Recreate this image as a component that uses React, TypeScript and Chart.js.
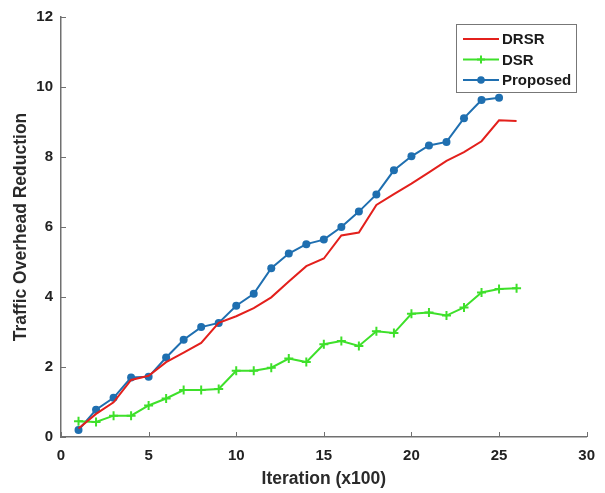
import React, { useEffect, useRef } from "react";
import { Chart, registerables } from "chart.js";
Chart.register(...registerables);

const iterations = [1, 2, 3, 4, 5, 6, 7, 8, 9, 10, 11, 12, 13, 14, 15, 16, 17, 18, 19, 20, 21, 22, 23, 24, 25, 26];
const drsr = [0.24, 0.66, 0.99, 1.63, 1.75, 2.14, 2.41, 2.69, 3.26, 3.45, 3.68, 3.99, 4.44, 4.88, 5.1, 5.76, 5.84, 6.63, 6.94, 7.24, 7.56, 7.89, 8.14, 8.45, 9.05, 9.03];
const dsr = [0.45, 0.43, 0.61, 0.61, 0.9, 1.1, 1.34, 1.34, 1.37, 1.89, 1.89, 1.98, 2.24, 2.14, 2.65, 2.74, 2.6, 3.02, 2.97, 3.52, 3.56, 3.47, 3.7, 4.13, 4.23, 4.25];
const proposed = [0.2, 0.78, 1.12, 1.7, 1.72, 2.27, 2.78, 3.14, 3.26, 3.75, 4.09, 4.82, 5.24, 5.51, 5.64, 6.0, 6.44, 6.93, 7.62, 8.02, 8.33, 8.43, 9.11, 9.63, 9.69];
const seriesNames = ["DRSR", "DSR", "Proposed"];
const xTitle = "Iteration (x100)";
const yTitle = "Traffic Overhead Reduction";

const FONT = "'Liberation Sans', Arial, sans-serif";
const RED = "#e3201c";
const GREEN = "#3ee02a";
const BLUE = "#1f6fb0";
const AXIS = "#707070";

const toPts = (vals: number[]) => vals.map((v, i) => ({ x: iterations[i], y: v }));

const inwardTicks = {
  id: "inwardTicks",
  afterDraw(chart: any) {
    const { ctx, chartArea, scales } = chart;
    ctx.save();
    ctx.strokeStyle = AXIS;
    ctx.lineWidth = 1;
    const xs = scales.x;
    const ys = scales.y;
    xs.ticks.forEach((t: any) => {
      const px = Math.round(xs.getPixelForValue(t.value)) + 0.5;
      ctx.beginPath();
      ctx.moveTo(px, chartArea.bottom);
      ctx.lineTo(px, chartArea.bottom - 5);
      ctx.stroke();
    });
    ys.ticks.forEach((t: any) => {
      const py = Math.round(ys.getPixelForValue(t.value)) + 0.5;
      ctx.beginPath();
      ctx.moveTo(chartArea.left, py);
      ctx.lineTo(chartArea.left + 5, py);
      ctx.stroke();
    });
    ctx.restore();
  },
};

const boxLegend = {
  id: "boxLegend",
  afterDraw(chart: any) {
    const { ctx } = chart;
    const x0 = 456.5, y0 = 24.5, w = 120, h = 68;
    ctx.save();
    ctx.fillStyle = "#ffffff";
    ctx.fillRect(x0, y0, w, h);
    ctx.strokeStyle = "#777777";
    ctx.lineWidth = 1;
    ctx.strokeRect(x0, y0, w, h);
    const rows = [39, 59.5, 80];
    const colors = [RED, GREEN, BLUE];
    ctx.font = `bold 15px ${FONT}`;
    ctx.textBaseline = "middle";
    rows.forEach((ry, i) => {
      ctx.strokeStyle = colors[i];
      ctx.lineWidth = 2;
      ctx.beginPath();
      ctx.moveTo(463, ry);
      ctx.lineTo(499, ry);
      ctx.stroke();
      if (i === 1) {
        ctx.lineWidth = 2;
        ctx.beginPath();
        ctx.moveTo(481, ry - 4);
        ctx.lineTo(481, ry + 4);
        ctx.moveTo(477, ry);
        ctx.lineTo(485, ry);
        ctx.stroke();
      }
      if (i === 2) {
        ctx.fillStyle = BLUE;
        ctx.beginPath();
        ctx.arc(481, ry, 3.8, 0, Math.PI * 2);
        ctx.fill();
      }
      ctx.fillStyle = "#1a1a1a";
      ctx.fillText(seriesNames[i], 502, ry + 1);
    });
    ctx.restore();
  },
};

export default function App() {
  const ref = useRef<HTMLCanvasElement | null>(null);
  useEffect(() => {
    if (!ref.current) return;
    const chart = new Chart(ref.current, {
      type: "line",
      data: {
        datasets: [
          {
            label: seriesNames[0],
            data: toPts(drsr),
            borderColor: RED,
            backgroundColor: RED,
            borderWidth: 2,
            pointRadius: 0,
            tension: 0,
          },
          {
            label: seriesNames[1],
            data: toPts(dsr),
            borderColor: GREEN,
            backgroundColor: GREEN,
            borderWidth: 2,
            pointStyle: "cross",
            pointRadius: 4.5,
            pointBorderWidth: 2,
            tension: 0,
          },
          {
            label: seriesNames[2],
            data: toPts(proposed),
            borderColor: BLUE,
            backgroundColor: BLUE,
            borderWidth: 2,
            pointStyle: "circle",
            pointRadius: 4,
            pointBorderWidth: 0,
            tension: 0,
          },
        ],
      },
      options: {
        responsive: false,
        animation: false,
        layout: { padding: { top: 14, right: 15, left: 0, bottom: 0 } },
        plugins: { legend: { display: false }, tooltip: { enabled: false } },
        scales: {
          x: {
            type: "linear",
            min: 0,
            max: 30,
            grid: { display: false, drawTicks: false },
            border: { display: true, color: AXIS, width: 1.5 },
            ticks: {
              stepSize: 5,
              padding: 10,
              color: "#222222",
              font: { family: FONT, size: 15, weight: "bold" },
              maxRotation: 0,
            },
            title: {
              display: true,
              text: xTitle,
              color: "#2a2a2a",
              font: { family: FONT, size: 17.5, weight: "bold" },
              padding: { top: 0, bottom: 3.5 },
            },
            afterFit: (s: any) => {
              s.height = 56;
            },
          },
          y: {
            min: 0,
            max: 12,
            grid: { display: false, drawTicks: false },
            border: { display: true, color: AXIS, width: 1.5 },
            ticks: {
              stepSize: 2,
              padding: 8,
              color: "#222222",
              font: { family: FONT, size: 15, weight: "bold" },
            },
            title: {
              display: true,
              text: yTitle,
              color: "#2a2a2a",
              font: { family: FONT, size: 17.5, weight: "bold" },
              padding: { top: 10.5, bottom: 0 },
            },
            afterFit: (s: any) => {
              s.width = 61;
            },
          },
        },
      },
      plugins: [inwardTicks, boxLegend],
    });
    return () => chart.destroy();
  }, []);
  return (
    <div style={{ position: "fixed", left: 0, top: 0, width: 605, height: 493, background: "#fff" }}>
      <canvas ref={ref} width={605} height={493} style={{ display: "block" }} />
    </div>
  );
}
